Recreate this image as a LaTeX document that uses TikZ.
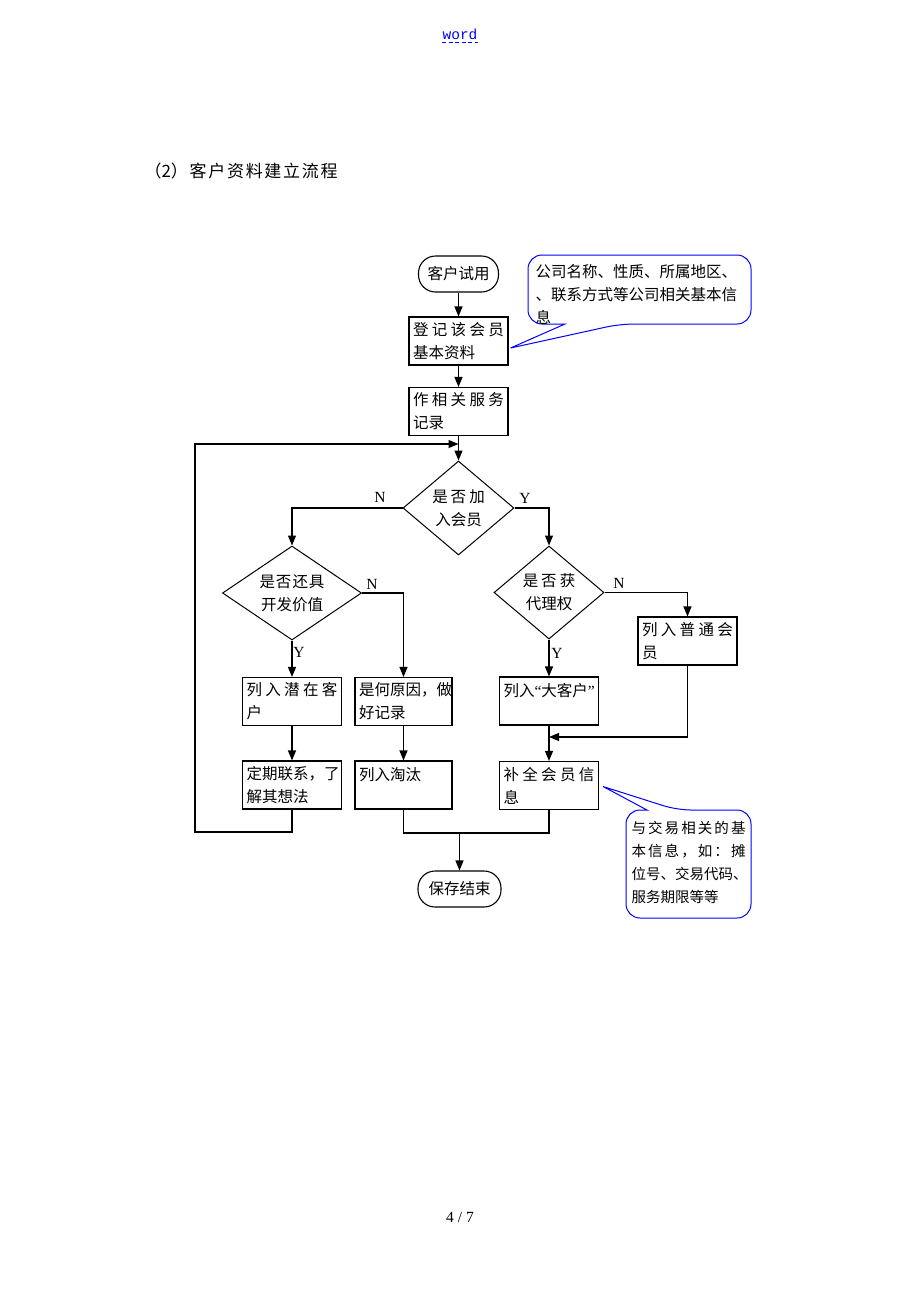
\documentclass[tikz,border=0pt]{standalone}
\usepackage{fontspec}
\setmainfont{Liberation Serif}
\newfontfamily\cjk{Noto Sans CJK SC}
\newfontfamily\monof{Liberation Mono}
\usetikzlibrary{shapes.geometric,arrows.meta,calc}
\newcommand\spr[2]{\makebox[#1][l]{#2}}
\begin{document}
\begin{tikzpicture}[x=1pt,y=-1pt,
 line width=1.1pt,
 arr/.style={-{Triangle[length=10pt,width=8pt]}},
 box/.style={draw, rectangle, text width=91pt, inner xsep=4pt, inner ysep=0pt, minimum height=48pt, align=left, font=\cjk\fontsize{15.5}{23}\selectfont},
 term/.style={draw, rectangle, rounded corners=17pt, minimum width=80pt, minimum height=36pt, inner sep=0pt, font=\cjk\fontsize{15.5}{18}\selectfont},
 dec/.style={draw, diamond, aspect=1.4, inner sep=0pt, align=center, line width=1pt, font=\cjk\fontsize{15.5}{23}\selectfont},
 lab/.style={font=\fontsize{15.5}{18}\selectfont, inner sep=0pt},
 call/.style={draw=blue, line width=1pt, rounded corners=14pt},
 ctext/.style={anchor=north west, align=left, inner sep=0pt, font=\cjk\fontsize{15}{23}\selectfont}
]
\fill[white] (0,0) rectangle (920,1302);
\useasboundingbox (0,0) rectangle (920,1302);

% header, title, page number
\node[font=\monof\fontsize{14.5}{16}\selectfont, text=blue, inner sep=0pt] (w) at (460,34) {word};
\draw[blue, line width=0.9pt, dash pattern=on 4pt off 2.5pt] ($(w.south west)+(0,3)$) -- ($(w.south east)+(0,3)$);
\node[anchor=west, inner sep=0pt, font=\cjk\fontsize{17}{19}\selectfont] (title) at (144,171)
  {\spr{193pt}{（2）\hfill 客\hfill 户\hfill 资\hfill 料\hfill 建\hfill 立\hfill 流\hfill 程}};
\node[lab] (pg) at (460,1217) {4 / 7};

% nodes
\node[term] (start) at (458.5,274) {客户试用};
\node[box] (reg) at (458.5,341) {\spr{91pt}{登\hfill 记\hfill 该\hfill 会\hfill 员}\\基本资料};
\node[box] (svc) at (458.5,411.5) {\spr{91pt}{作\hfill 相\hfill 关\hfill 服\hfill 务}\\记录};
\node[dec, minimum width=111pt, minimum height=94pt] (d1) at (458.5,508) {是\hspace{3pt}否\hspace{3pt}加\\入会员};
\node[dec, minimum width=139pt, minimum height=94pt] (d2) at (292,593) {是\hspace{1pt}否\hspace{1pt}还\hspace{1pt}具\\开发价值};
\node[dec, minimum width=110pt, minimum height=93pt] (d3) at (549,592.5) {是\hspace{3pt}否\hspace{3pt}获\\代理权};
\node[box] (pt) at (687.5,641) {\spr{91pt}{列\hfill 入\hfill 普\hfill 通\hfill 会}\\员};
\node[box] (pot) at (292,701.5) {\spr{91pt}{列\hfill 入\hfill 潜\hfill 在\hfill 客}\\户};
\node[box, text width=89pt] (why) at (403.5,701.5) {是何原因，做\\好记录};
\node[box] (big) at (549,701) {列入{\rmfamily “}大客户{\rmfamily ”}\\\mbox{}};
\node[box] (reg2) at (292,785) {定期联系，了\\解其想法};
\node[box, text width=89pt] (elim) at (403.5,785) {列入淘汰\\\mbox{}};
\node[box] (fill) at (549,785.5) {\spr{91pt}{补\hfill 全\hfill 会\hfill 员\hfill 信}\\息};
\node[term, minimum width=83pt] (end) at (459.5,889) {保存结束};

% connectors
\draw[arr] (start) -- (reg);
\draw[arr] (reg) -- (svc);
\draw[arr] (svc) -- (d1);
\draw[arr] (d1.west) -| (d2.north);
\draw[arr] (d1.east) -| (d3.north);
\draw[arr] (d2) -- (pot);
\draw[arr] (d2.east) -| (why.north);
\draw[arr] (why) -- (elim);
\draw[arr] (pot) -- (reg2);
\draw[arr] (d3) -- (big);
\draw[arr] (d3.east) -| (pt.north);
\draw[arr] (big) -- (fill);
\coordinate (join) at (big.south |- 0,737);
\draw[arr] (pt.south) |- (join);
\coordinate (loopin) at (svc.south |- 0,444);
\coordinate (loopc) at (195,832);
\draw[arr] (reg2.south) |- (loopc) |- (loopin);
\coordinate (merge) at (end.north |- 0,833);
\draw (elim.south) |- (fill.south |- merge) -- (fill.south);
\draw[arr] (merge) -- (end);

% labels
\node[lab] (n1) at (380,497) {N};
\node[lab] (y1) at (525,498) {Y};
\node[lab] (n2) at (372,584) {N};
\node[lab] (n3) at (619,583) {N};
\node[lab] (y2) at (299,652) {Y};
\node[lab] (y3) at (557,653) {Y};

% callouts
\draw[call] (565,324) -- (528,324) -- (528,255) -- (751,255) -- (751,324) -- (620,324) [sharp corners] -- ($(reg.east)+(2,7)$) -- cycle;
\node[ctext, font=\cjk\fontsize{15.5}{23}\selectfont] (c1) at (535,264) {公司名称、性质、所属地区、\\、联系方式等公司相关基本信\\息};
\draw[call] (647,810) -- (626,810) -- (626,918) -- (751,918) -- (751,810) -- (677,810) [sharp corners] -- ($(fill.east)+(4,1)$) -- cycle;
\node[ctext, font=\cjk\fontsize{14.5}{23}\selectfont] (c2) at (631,821)
  {\spr{114pt}{与\hfill 交\hfill 易\hfill 相\hfill 关\hfill 的\hfill 基}\\\spr{114pt}{本\hfill 信\hfill 息\hfill ，\hfill 如\hfill ：\hfill 摊}\\位号、交易代码、\\服务期限等等};
\end{tikzpicture}
\end{document}
